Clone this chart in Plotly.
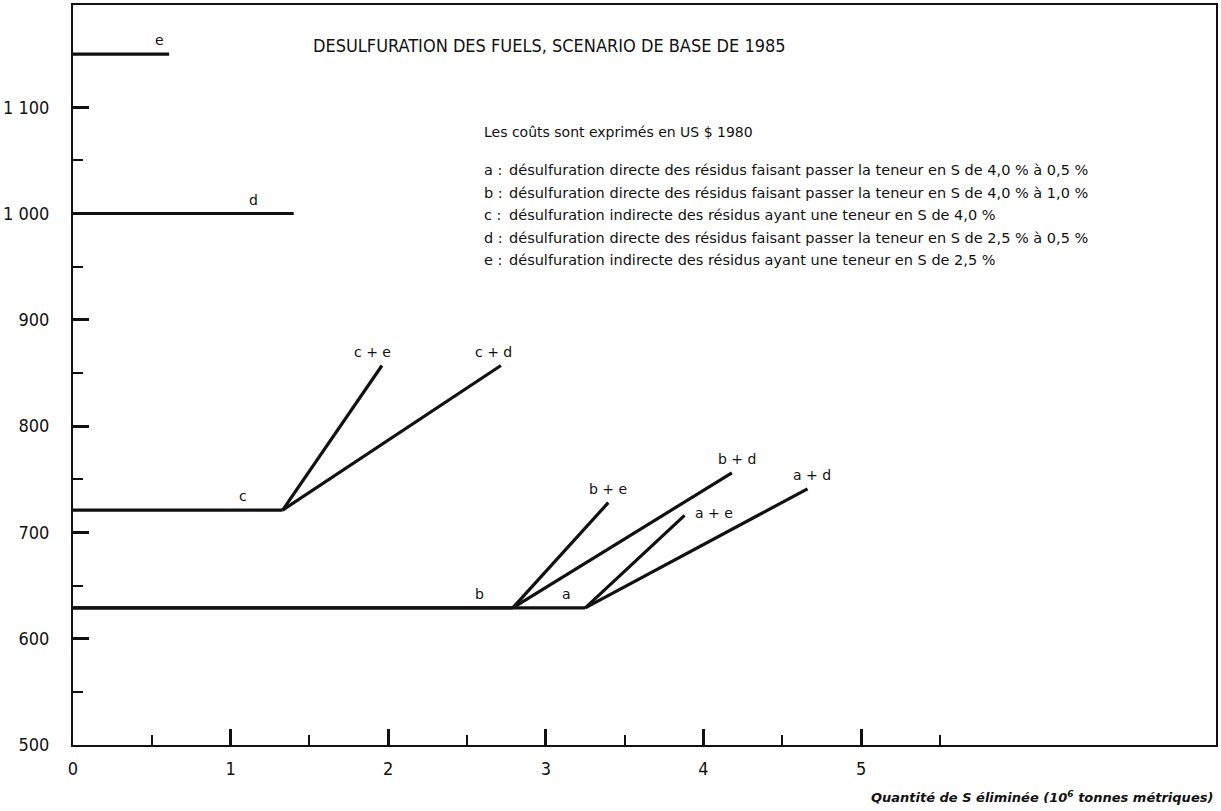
import plotly.graph_objects as go

# ---------------- data ----------------
base_names = ["a", "b", "c", "d", "e"]
base_cost = [629, 629, 721, 1000, 1150]          # US $ 1980
base_qty_max = [3.25, 2.79, 1.33, 1.40, 0.61]    # 10^6 t S
base_label_x = [3.13, 2.58, 1.08, 1.145, 0.55]

combo_names = ["c + e", "c + d", "b + e", "b + d", "a + e", "a + d"]
combo_base = ["c", "c", "b", "b", "a", "a"]
combo_qty_end = [1.96, 2.715, 3.396, 4.18, 3.88, 4.66]
combo_cost_end = [857, 857, 728, 756, 716, 741]

x_tickvals = [0, 1, 2, 3, 4, 5]
x_ticktext = ["0", "1", "2", "3", "4", "5"]
x_minor = [0.5, 1.5, 2.5, 3.5, 4.5, 5.5]
y_tickvals = [500, 600, 700, 800, 900, 1000, 1100]
y_ticktext = ["500", "600", "700", "800", "900", "1 000", "1 100"]
y_minor = [550, 650, 750, 850, 950, 1050, 1150]

title_text = "DESULFURATION DES FUELS, SCENARIO DE BASE DE 1985"
note_text = "Les coûts sont exprimés en US $ 1980"
legend_keys = ["a :", "b :", "c :", "d :", "e :"]
legend_texts = [
    "désulfuration directe des résidus faisant passer la teneur en S de 4,0 % à 0,5 %",
    "désulfuration directe des résidus faisant passer la teneur en S de 4,0 % à 1,0 %",
    "désulfuration indirecte des résidus ayant une teneur en S de 4,0 %",
    "désulfuration directe des résidus faisant passer la teneur en S de 2,5 % à 0,5 %",
    "désulfuration indirecte des résidus ayant une teneur en S de 2,5 %",
]
x_title = "<i><b>Quantité de S éliminée (10<sup>6</sup> tonnes métriques)</b></i>"

# ---------------- layout geometry ----------------
W, H = 1221, 811
ML, MR, MT, MB = 65, 3, 5, 66
PW, PH = W - ML - MR, H - MT - MB
INK = "#111111"
LAB_FONT = "DejaVu Sans, sans-serif"
NUM_FONT = "Liberation Sans Narrow, DejaVu Sans Condensed, Roboto, sans-serif"


def px(xp):
    return (xp - ML) / PW


def py(yp):
    return (H - MB - yp) / PH


fig = go.Figure()
line_style = dict(color=INK, width=3.2)

for name, cost, qmax in zip(base_names, base_cost, base_qty_max):
    fig.add_trace(go.Scatter(x=[0, qmax], y=[cost, cost], mode="lines",
                             line=line_style, name=name, showlegend=False,
                             hoverinfo="skip"))

base_lookup = {n: (q, c) for n, q, c in zip(base_names, base_qty_max, base_cost)}
for name, b, qe, ce in zip(combo_names, combo_base, combo_qty_end, combo_cost_end):
    q0, c0 = base_lookup[b]
    fig.add_trace(go.Scatter(x=[q0, qe], y=[c0, ce], mode="lines",
                             line=line_style, name=name, showlegend=False,
                             hoverinfo="skip"))

lab_font = dict(family=LAB_FONT, size=14, color=INK)
annotations = []
for name, cost, lx in zip(base_names, base_cost, base_label_x):
    annotations.append(dict(x=lx, y=cost, xref="x", yref="y", text=name,
                            showarrow=False, yanchor="bottom", yshift=4,
                            font=lab_font))
for name, qe, ce in zip(combo_names, combo_qty_end, combo_cost_end):
    if name == "a + e":
        annotations.append(dict(x=qe, y=ce, xref="x", yref="y", text=name,
                                showarrow=False, xanchor="left", xshift=8,
                                yanchor="middle", yshift=2, font=lab_font))
    else:
        dx = {"c + e": -9, "c + d": -7, "b + e": 0, "b + d": 5, "a + d": 4}[name]
        annotations.append(dict(x=qe, y=ce, xref="x", yref="y", text=name,
                                showarrow=False, yanchor="bottom", yshift=4,
                                xshift=dx, font=lab_font))

# title
annotations.append(dict(x=px(546), y=py(46), xref="paper", yref="paper",
                        text=title_text, showarrow=False, xanchor="center",
                        yanchor="middle",
                        font=dict(family=NUM_FONT, size=18, color=INK)))
# note + legend text
annotations.append(dict(x=px(478), y=py(132), xref="paper", yref="paper",
                        text=note_text, showarrow=False, xanchor="left",
                        yanchor="middle",
                        font=dict(family=LAB_FONT, size=14, color=INK)))
for i, (k, t) in enumerate(zip(legend_keys, legend_texts)):
    yy = py(170 + 22.6 * i)
    annotations.append(dict(x=px(478), y=yy, xref="paper", yref="paper",
                            text=k, showarrow=False, xanchor="left",
                            yanchor="middle",
                            font=dict(family=LAB_FONT, size=14.5, color=INK)))
    annotations.append(dict(x=px(503), y=yy, xref="paper", yref="paper",
                            text=t, showarrow=False, xanchor="left",
                            yanchor="middle",
                            font=dict(family=LAB_FONT, size=14.5, color=INK)))
# x axis title
annotations.append(dict(x=px(1217), y=py(797), xref="paper", yref="paper",
                        text=x_title, showarrow=False, xanchor="right",
                        yanchor="middle",
                        font=dict(family=LAB_FONT, size=13, color=INK)))

fig.update_layout(
    width=W, height=H,
    margin=dict(l=ML, r=MR, t=MT, b=MB, pad=0),
    paper_bgcolor="white", plot_bgcolor="white",
    showlegend=False,
    annotations=annotations,
    xaxis=dict(range=[0, PW / 159.0], showgrid=False, zeroline=False,
               showline=True, linecolor=INK, linewidth=2, mirror=True,
               ticks="inside", tickvals=x_tickvals, ticktext=x_ticktext,
               ticklen=16, tickwidth=3, tickcolor=INK, ticklabelstandoff=6,
               tickfont=dict(family=NUM_FONT, size=18, color=INK),
               minor=dict(tickvals=x_minor, ticks="inside", ticklen=10,
                          tickwidth=2, tickcolor=INK, showgrid=False)),
    yaxis=dict(range=[500, 500 + PH / 1.063], showgrid=False, zeroline=False,
               showline=True, linecolor=INK, linewidth=2, mirror=True,
               ticks="inside", tickvals=y_tickvals, ticktext=y_ticktext,
               ticklen=16, tickwidth=3, tickcolor=INK, ticklabelstandoff=18,
               tickfont=dict(family=NUM_FONT, size=18, color=INK),
               minor=dict(tickvals=y_minor, ticks="inside", ticklen=10,
                          tickwidth=2, tickcolor=INK, showgrid=False)),
)

fig.write_html("out.html",
               config={"displayModeBar": False},
               post_script="document.body.style.margin='0';"
                           "document.body.style.overflow='hidden';")
